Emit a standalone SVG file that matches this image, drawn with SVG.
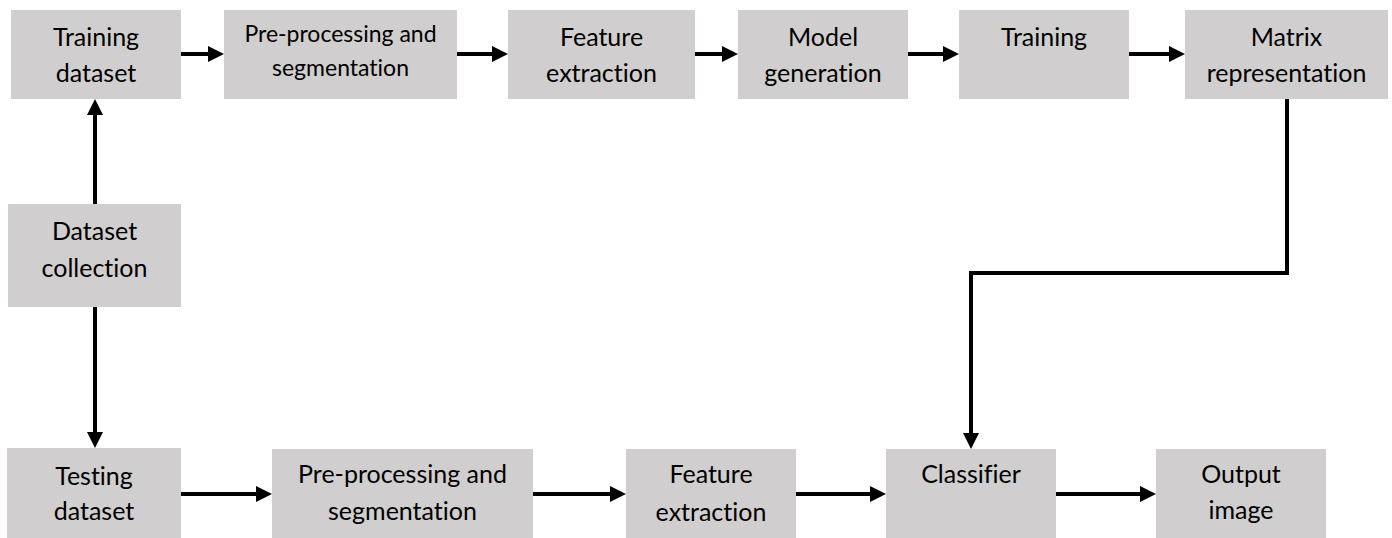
<svg xmlns="http://www.w3.org/2000/svg" width="1392" height="538" viewBox="0 0 1392 538">
<style>
.box{fill:#D0CECE;}
.t{font-family:Lato,"Open Sans",sans-serif;font-size:25px;fill:#000;text-anchor:middle;font-variant-ligatures:none;font-feature-settings:"liga" 0;}
.s{font-size:23px;}
.c{fill:none;stroke:#000;stroke-width:4;}
</style>
<defs>
<marker id="ah" markerUnits="userSpaceOnUse" markerWidth="16" markerHeight="16" refX="6" refY="8" orient="auto">
<path d="M0,0 L16,8 L0,16 z" fill="#000"/>
</marker>
</defs>
<rect width="1392" height="538" fill="#fff"/>
<g id="connectors">
<line class="c" x1="181" y1="54" x2="214" y2="54" marker-end="url(#ah)"/>
<line class="c" x1="457" y1="54" x2="498" y2="54" marker-end="url(#ah)"/>
<line class="c" x1="695" y1="54" x2="728" y2="54" marker-end="url(#ah)"/>
<line class="c" x1="908" y1="54" x2="949" y2="54" marker-end="url(#ah)"/>
<line class="c" x1="1129" y1="54" x2="1175" y2="54" marker-end="url(#ah)"/>
<line class="c" x1="95" y1="204" x2="95" y2="109" marker-end="url(#ah)"/>
<line class="c" x1="95" y1="307" x2="95" y2="438" marker-end="url(#ah)"/>
<polyline class="c" points="1287,99 1287,273 971,273 971,439" marker-end="url(#ah)"/>
<line class="c" x1="181" y1="494" x2="262" y2="494" marker-end="url(#ah)"/>
<line class="c" x1="533" y1="494" x2="616" y2="494" marker-end="url(#ah)"/>
<line class="c" x1="796" y1="494" x2="876" y2="494" marker-end="url(#ah)"/>
<line class="c" x1="1056" y1="494" x2="1146" y2="494" marker-end="url(#ah)"/>
</g>
<g id="training-dataset"><rect class="box" x="11" y="10" width="170" height="89"/><text class="t" x="96" y="46">Training</text><text class="t" x="96" y="82">dataset</text></g>
<g id="preprocessing-top"><rect class="box" x="224" y="10" width="233" height="89"/><text class="t s" x="340.5" y="42">Pre-processing and</text><text class="t s" x="340.5" y="76">segmentation</text></g>
<g id="feature-top"><rect class="box" x="508" y="10" width="187" height="89"/><text class="t" x="601.5" y="46">Feature</text><text class="t" x="601.5" y="82">extraction</text></g>
<g id="model-generation"><rect class="box" x="738" y="10" width="170" height="89"/><text class="t" x="823" y="46">Model</text><text class="t" x="823" y="82">generation</text></g>
<g id="training"><rect class="box" x="959" y="10" width="170" height="89"/><text class="t" x="1044" y="46">Training</text></g>
<g id="matrix"><rect class="box" x="1185" y="10" width="203" height="89"/><text class="t" x="1286.5" y="46">Matrix</text><text class="t" x="1286.5" y="82">representation</text></g>
<g id="dataset-collection"><rect class="box" x="8" y="204" width="173" height="103"/><text class="t" x="94.5" y="240">Dataset</text><text class="t" x="94.5" y="277">collection</text></g>
<g id="testing-dataset"><rect class="box" x="7" y="448" width="174" height="90"/><text class="t" x="94" y="485">Testing</text><text class="t" x="94" y="520">dataset</text></g>
<g id="preprocessing-bottom"><rect class="box" x="272" y="449" width="261" height="89"/><text class="t" x="402.5" y="483">Pre-processing and</text><text class="t" x="402.5" y="520">segmentation</text></g>
<g id="feature-bottom"><rect class="box" x="626" y="449" width="170" height="89"/><text class="t" x="711" y="483">Feature</text><text class="t" x="711" y="521">extraction</text></g>
<g id="classifier"><rect class="box" x="886" y="449" width="170" height="89"/><text class="t" x="971" y="483">Classifier</text></g>
<g id="output-image"><rect class="box" x="1156" y="449" width="170" height="89"/><text class="t" x="1241" y="483">Output</text><text class="t" x="1241" y="519">image</text></g>
</svg>
